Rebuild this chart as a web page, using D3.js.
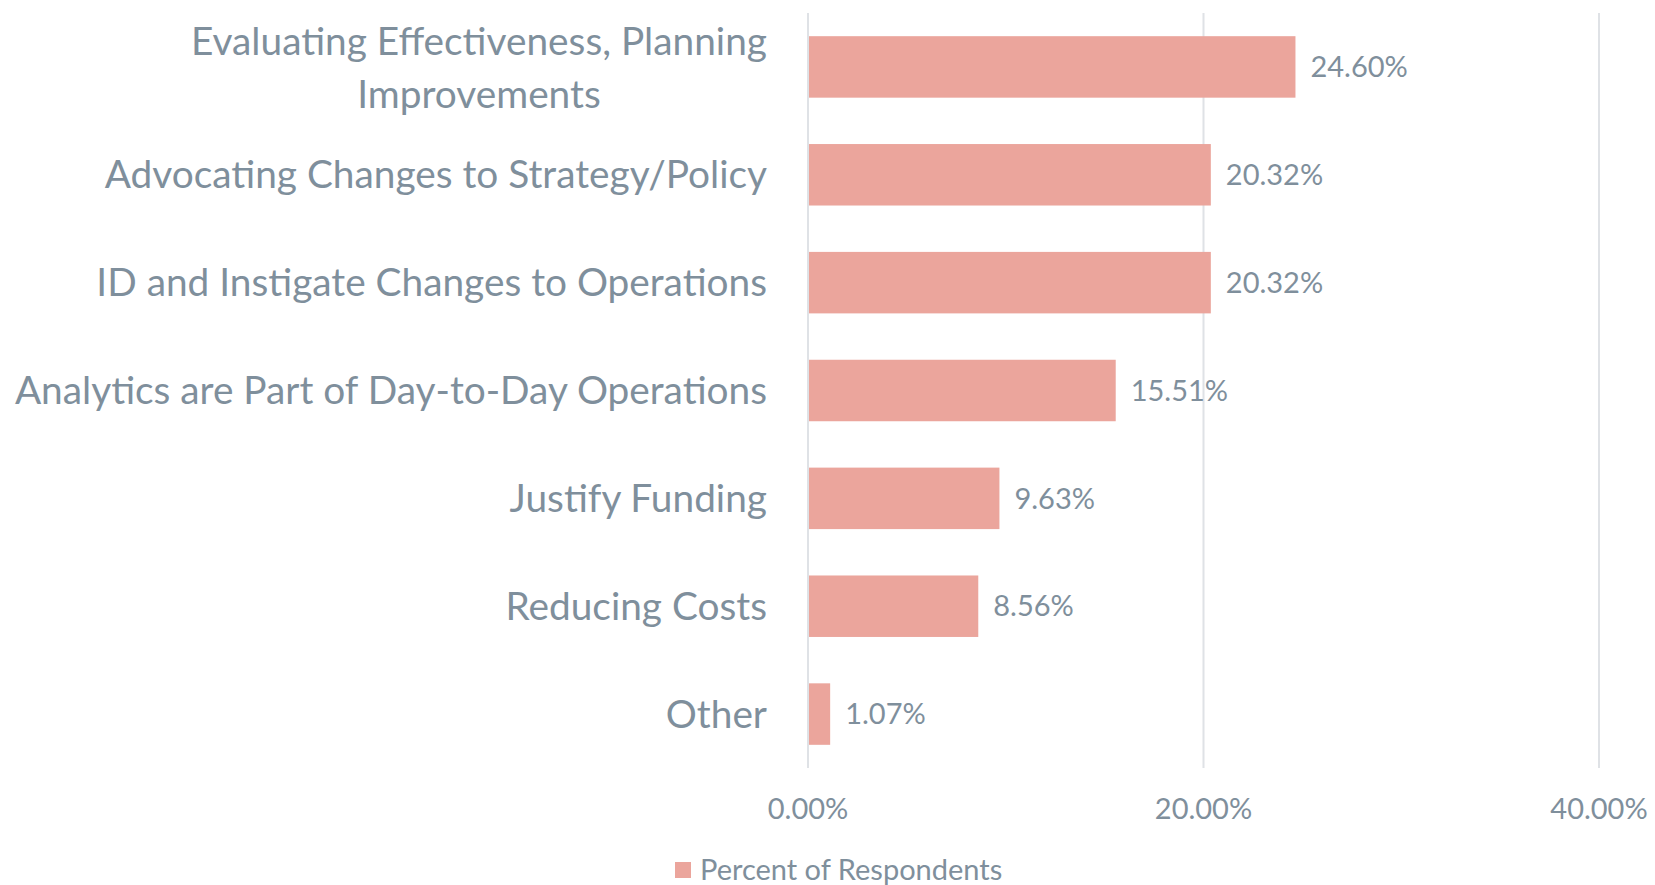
<!DOCTYPE html>
<html>
<head>
<meta charset="utf-8">
<script src="https://cdn.jsdelivr.net/npm/d3@7"></script>
<style>
  body { margin: 0; background: #fff; }
  text { font-family: Lato, "Open Sans", sans-serif; fill: #7f8f9c; }
</style>
</head>
<body>
<div class="container"></div>
<script>
// data
var categories = ["Evaluating Effectiveness, Planning|Improvements",
                  "Advocating Changes to Strategy/Policy",
                  "ID and Instigate Changes to Operations",
                  "Analytics are Part of Day-to-Day Operations",
                  "Justify Funding",
                  "Reducing Costs",
                  "Other"];
var values = [24.60, 20.32, 20.32, 15.51, 9.63, 8.56, 1.07];
var ticks = [0, 20, 40];
var seriesName = "Percent of Respondents";

var width = 1655, height = 885;
var margin = {top: 13, right: 56, bottom: 117, left: 808};

var barColor = "#eba59c", gridColor = "#dfe2e6";
var smallFont = "29px", bigFont = "38.8px";

var svg = d3.select(".container").append("svg")
    .attr("width", width)
    .attr("height", height);

var x = d3.scaleLinear()
    .domain([0, 40])
    .range([margin.left, margin.left + 791]);
var y = d3.scaleBand()
    .domain(categories)
    .range([margin.top, height - margin.bottom])
    .paddingInner(0.43)
    .paddingOuter(0.215);

// gridlines
svg.append("g").selectAll("line")
    .data(ticks).enter().append("line")
    .attr("x1", d => x(d)).attr("x2", d => x(d))
    .attr("y1", margin.top).attr("y2", height - margin.bottom)
    .attr("stroke", gridColor).attr("stroke-width", 2);

// x tick labels
svg.append("g").selectAll("text")
    .data(ticks).enter().append("text")
    .attr("x", d => x(d)).attr("y", 819)
    .attr("text-anchor", "middle")
    .style("font-size", smallFont)
    .text(d => d.toFixed(2) + "%");

// bars
svg.append("g").selectAll("rect")
    .data(values).enter().append("rect")
    .attr("x", x(0) + 1)
    .attr("y", (d, i) => y(categories[i]))
    .attr("width", d => x(d) - x(0))
    .attr("height", y.bandwidth())
    .attr("fill", barColor);

// value labels
svg.append("g").selectAll("text")
    .data(values).enter().append("text")
    .attr("x", d => x(d) + 16)
    .attr("y", (d, i) => y(categories[i]) + y.bandwidth() / 2)
    .attr("dy", "0.35em")
    .style("font-size", smallFont)
    .text(d => d.toFixed(2) + "%");

// category labels (right aligned block, wrapped lines centered)
var labelRight = x(0) - 41;
categories.forEach(function(c) {
  var lines = c.split("|");
  var cy = y(c) + y.bandwidth() / 2;
  var t = svg.append("text")
      .style("font-size", bigFont)
      .attr("text-anchor", "end");
  if (lines.length === 1) {
    t.attr("x", labelRight).attr("y", cy).attr("dy", "0.35em").text(c);
  } else {
    t.attr("x", labelRight).attr("y", cy - 26).attr("dy", "0.35em").text(lines[0]);
    var w = t.node().getComputedTextLength();
    svg.append("text")
      .style("font-size", bigFont)
      .attr("text-anchor", "middle")
      .attr("x", labelRight - w / 2).attr("y", cy + 27).attr("dy", "0.35em")
      .text(lines[1]);
  }
});

// legend
var lg = svg.append("g").attr("transform", "translate(675,870)");
lg.append("rect").attr("x", 0).attr("y", -8).attr("width", 16).attr("height", 16).attr("fill", barColor);
lg.append("text").attr("x", 25).attr("y", 0).attr("dy", "0.35em")
  .style("font-size", smallFont).text(seriesName);
</script>
</body>
</html>
